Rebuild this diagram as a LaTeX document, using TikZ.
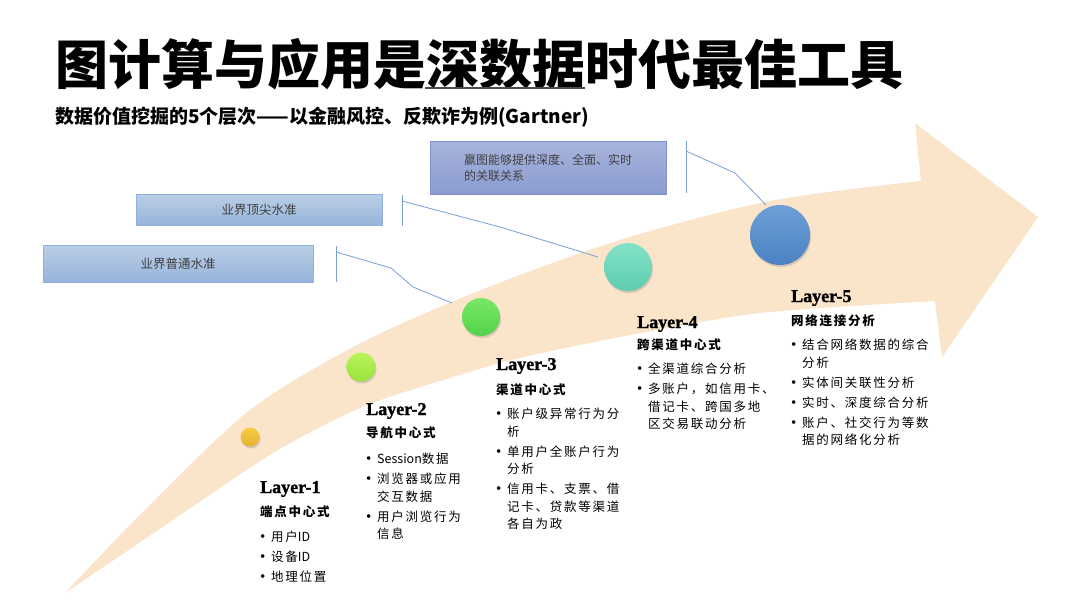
\documentclass[tikz,border=0pt]{standalone}
\usepackage{fontspec}
\usetikzlibrary{shadows}
\setmainfont{Liberation Serif}
\newfontfamily\layerfont{Liberation Serif}[BoldFeatures={FakeBold=1.5}]
\newfontfamily\cjk{Noto Sans CJK SC}
\newfontfamily\cjkblack{Noto Sans CJK SC Black}
\newfontfamily\cjksp{Noto Sans CJK SC}[LetterSpace=14]
\definecolor{pfeil}{RGB}{250,228,202}
\definecolor{kastenoben}{RGB}{187,206,230}
\definecolor{kastenunten}{RGB}{150,180,218}
\definecolor{kastenrand}{RGB}{141,176,222}
\definecolor{kasten3oben}{RGB}{168,180,220}
\definecolor{kasten3unten}{RGB}{138,155,208}
\definecolor{kasten3rand}{RGB}{125,145,205}
\definecolor{textgrau}{RGB}{64,64,64}
\definecolor{linienblau}{RGB}{120,160,215}
\newcommand\bu{\makebox[11pt][l]{\rmfamily\fontsize{15}{15}\selectfont\textbullet}}
\newcommand\ein{\hspace*{11pt}}
\tikzstyle{box} = [draw=kastenrand, line width=1pt, top color=kastenoben, bottom color=kastenunten, inner sep=0, text=textgrau, font=\cjk\fontsize{12.5}{16}\selectfont]
\tikzstyle{callout} = [draw=linienblau, line width=0.8pt]
\tikzstyle{dot} = [circle, inner sep=0, drop shadow={shadow xshift=1pt, shadow yshift=-2pt, opacity=0.3}]
\tikzstyle{layer} = [anchor=base west, inner sep=0, font=\layerfont\bfseries\fontsize{18}{18}\selectfont]
\tikzstyle{head} = [anchor=base west, inner sep=0, font=\cjksp\bfseries\fontsize{12.5}{17}\selectfont]
\tikzstyle{items} = [anchor=base west, inner sep=0, align=left, font=\cjksp\fontsize{12.5}{17.5}\selectfont] % base = letzte Zeile

\begin{document}
\begin{tikzpicture}[x=1pt, y=-1pt]
		\fill[white] (0,0) rectangle (1080,616);
		\useasboundingbox (0,0) rectangle (1080,616);
		% Pfeil
		\fill[pfeil] plot[smooth] coordinates {(65,593) (140,515) (250,410) (361,343) (481,290) (620,240) (770,201) (921,181)} -- (915,123) -- (1038,217) -- (942,357) -- (935,301) -- plot[smooth] coordinates {(935,301) (760,313) (620,337) (520,358) (443,380) (360,408) (273,453) (173,520) (65,593)} -- cycle;
		% Titel
		\node[anchor=base west, inner sep=0, font=\cjkblack\fontsize{53}{53}\selectfont] (titel) at (55,84) {图计算与应用是深数据时代最佳工具};
		\draw[black!70, line width=1.5pt] (425,88) -- (585,88); % unterstrichen
		\node[anchor=base west, inner sep=0, font=\cjk\bfseries\fontsize{19}{19}\selectfont] (untertitel) at (55,123) {数据价值挖掘的5个层次——以金融风控、反欺诈为例(Gartner)};
		% Kaesten
		\node[box, minimum width=270, minimum height=37] (b1) at (178,263.5) {业界普通水准};
		\node[box, minimum width=246, minimum height=31] (b2) at (259,210) {业界顶尖水准};
		\node[box, draw=kasten3rand, top color=kasten3oben, bottom color=kasten3unten, minimum width=236, minimum height=53, align=left, font=\cjk\fontsize{12}{16}\selectfont] (b3) at (548,167.5) {赢图能够提供深度、全面、实时\\的关联关系};
		% Punkte
		\node[dot, minimum size=19, top color={rgb,255:red,246;green,203;blue,70}, bottom color={rgb,255:red,232;green,178;blue,45}] (c1) at (250,437) {};
		\node[dot, minimum size=29, top color={rgb,255:red,186;green,245;blue,90}, bottom color={rgb,255:red,150;green,226;blue,60}] (c2) at (361,367) {};
		\node[dot, minimum size=38, top color={rgb,255:red,120;green,232;blue,100}, bottom color={rgb,255:red,85;green,210;blue,75}] (c3) at (481,317) {};
		\node[dot, minimum size=48, top color={rgb,255:red,130;green,226;blue,200}, bottom color={rgb,255:red,95;green,205;blue,175}] (c4) at (628,267) {};
		\node[dot, minimum size=60, top color={rgb,255:red,110;green,160;blue,215}, bottom color={rgb,255:red,75;green,130;blue,195}] (c5) at (780,235) {};
		% Hinweislinien
		\coordinate (k1o) at (336,246); \coordinate (k1u) at (336,282); \coordinate (k1a) at (336,252); \coordinate (k1e) at (452,303);
		\coordinate (k2o) at (402,195); \coordinate (k2u) at (402,226); \coordinate (k2a) at (402,201); \coordinate (k2e) at (598,257);
		\coordinate (k3o) at (686,141); \coordinate (k3u) at (686,193); \coordinate (k3a) at (686,151); \coordinate (k3e) at (766,205);
		\draw[callout] (k1o) -- (k1u);
		\draw[callout] (k1a) -- (391,268) -- (413,287) -- (k1e);
		\draw[callout] (k2o) -- (k2u);
		\draw[callout] (k2a) -- (500,227) -- (k2e);
		\draw[callout] (k3o) -- (k3u);
		\draw[callout] (k3a) -- (735,173) -- (k3e);
		% Layer 1-5
		\node[layer] (l1) at (260,493) {Layer-1};
		\node[head] (h1) at (260,516.75) {端点中心式};
		\node[items] (i1) at (260,581.75) {\bu 用户{\cjk ID}\\[2.5pt]\bu 设备{\cjk ID}\\[2.5pt]\bu 地理位置};
		\node[layer] (l2) at (366,415) {Layer-2};
		\node[head] (h2) at (366,437.75) {导航中心式};
		\node[items] (i2) at (366,538.75) {\bu {\cjk Session}数据\\[2.5pt]\bu 浏览器或应用\\ \ein 交互数据\\[2.5pt]\bu 用户浏览行为\\ \ein 信息};
		\node[layer] (l3) at (496,370) {Layer-3};
		\node[head] (h3) at (496,394.75) {渠道中心式};
		\node[items] (i3) at (496,528.75) {\bu 账户级异常行为分\\ \ein 析\\[2.5pt]\bu 单用户全账户行为\\ \ein 分析\\[2.5pt]\bu 信用卡、支票、借\\ \ein 记卡、贷款等渠道\\ \ein 各自为政};
		\node[layer] (l4) at (637,328) {Layer-4};
		\node[head] (h4) at (637,349.75) {跨渠道中心式};
		\node[items] (i4) at (637,428.75) {\bu 全渠道综合分析\\[2.5pt]\bu 多账户，如信用卡、\\ \ein 借记卡、跨国多地\\ \ein 区交易联动分析};
		\node[layer] (l5) at (791,302) {Layer-5};
		\node[head] (h5) at (791,325.75) {网络连接分析};
		\node[items] (i5) at (791,444.75) {\bu 结合网络数据的综合\\ \ein 分析\\[2.5pt]\bu 实体间关联性分析\\[2.5pt]\bu 实时、深度综合分析\\[2.5pt]\bu 账户、社交行为等数\\ \ein 据的网络化分析};
\end{tikzpicture}
\end{document}
